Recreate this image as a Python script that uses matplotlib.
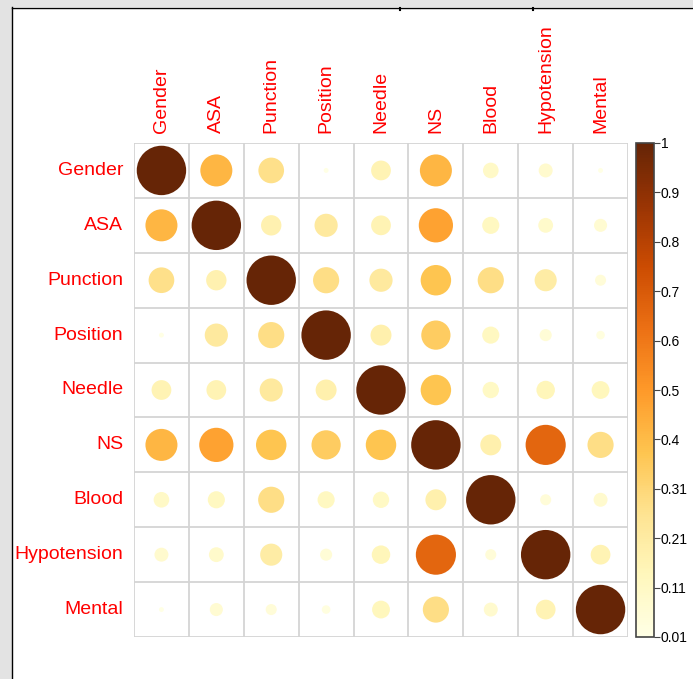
import numpy as np
import matplotlib
matplotlib.use('Agg')
from matplotlib import pyplot as plt
from matplotlib.patches import Circle, Rectangle
from matplotlib.lines import Line2D
from matplotlib.cm import ScalarMappable
from matplotlib.colors import Normalize

labels = ['Gender', 'ASA', 'Punction', 'Position', 'Needle', 'NS', 'Blood', 'Hypotension', 'Mental']

# correlation values
r_gender = [1.00, 0.42, 0.27, 0.01, 0.16, 0.42, 0.10, 0.08, 0.01]
r_asa = [0.42, 1.00, 0.17, 0.22, 0.16, 0.48, 0.12, 0.09, 0.07]
r_punction = [0.27, 0.17, 1.00, 0.28, 0.22, 0.38, 0.28, 0.20, 0.05]
r_position = [0.01, 0.22, 0.28, 1.00, 0.18, 0.35, 0.12, 0.06, 0.03]
r_needle = [0.16, 0.16, 0.22, 0.18, 1.00, 0.38, 0.11, 0.14, 0.13]
r_ns = [0.42, 0.48, 0.38, 0.35, 0.38, 1.00, 0.18, 0.66, 0.28]
r_blood = [0.10, 0.12, 0.28, 0.12, 0.11, 0.18, 1.00, 0.05, 0.08]
r_hypo = [0.08, 0.09, 0.20, 0.06, 0.14, 0.66, 0.05, 1.00, 0.16]
r_mental = [0.01, 0.07, 0.05, 0.03, 0.13, 0.28, 0.08, 0.16, 1.00]

cbar_ticks = [0.01, 0.109, 0.208, 0.307, 0.406, 0.505, 0.604, 0.703, 0.802, 0.901, 1.0]
cbar_labels = ['0.01', '0.11', '0.21', '0.31', '0.4', '0.5', '0.6', '0.7', '0.8', '0.9', '1']

corr = np.array([r_gender, r_asa, r_punction, r_position, r_needle,
                 r_ns, r_blood, r_hypo, r_mental])
n = len(labels)

W, H = 693, 679
fig = plt.figure(figsize=(W / 100, H / 100), dpi=100)
plt.rcParams['font.family'] = ['Liberation Sans', 'DejaVu Sans']

# window frame of the screenshot
fig.patches.append(Rectangle((0, 0), 12 / W, 1, transform=fig.transFigure,
                             facecolor='#e3e3e3', edgecolor='none', zorder=0))
fig.patches.append(Rectangle((0, 1 - 7 / H), 1, 7 / H, transform=fig.transFigure,
                             facecolor='#e3e3e3', edgecolor='none', zorder=0))
fig.lines.append(Line2D([12.5 / W, 12.5 / W], [0, 1 - 7 / H], transform=fig.transFigure,
                        color='black', lw=1))
fig.lines.append(Line2D([12.5 / W, 1], [1 - 7.5 / H, 1 - 7.5 / H], transform=fig.transFigure,
                        color='black', lw=1))
for xt in [400, 533]:
    fig.lines.append(Line2D([xt / W, xt / W], [1 - 7.5 / H, 1 - 10 / H],
                            transform=fig.transFigure, color='black', lw=1.5))

left, right = 134 / W, 628 / W
top, bottom = 1 - 143 / H, 1 - 637 / H
ax = fig.add_axes([left, bottom, right - left, top - bottom])
ax.set_xlim(0, n)
ax.set_ylim(n, 0)
ax.set_aspect('auto')

cmap = plt.get_cmap('YlOrBr')
norm = Normalize(vmin=0.01, vmax=1.0)

for i in range(n):
    for j in range(n):
        v = corr[i, j]
        ax.add_patch(Circle((j + 0.5, i + 0.5), 0.45 * np.sqrt(abs(v)),
                            facecolor=cmap(norm(v)), edgecolor='none', zorder=2))

for k in range(n + 1):
    ax.axhline(k, color='#d4d4d4', lw=1.3, zorder=1)
    ax.axvline(k, color='#d4d4d4', lw=1.3, zorder=1)

for s in ax.spines.values():
    s.set_visible(False)
ax.set_xticks([])
ax.set_yticks([])

for k, lab in enumerate(labels):
    ax.text(k + 0.5, -0.18, lab, rotation=90, ha='center', va='bottom',
            color='#ff0000', fontsize=14)
    ax.text(-0.2, k + 0.5, lab, ha='right', va='center',
            color='#ff0000', fontsize=14)

cax = fig.add_axes([636 / W, bottom, 18 / W, top - bottom])
sm = ScalarMappable(norm=norm, cmap=cmap)
cb = fig.colorbar(sm, cax=cax, ticks=cbar_ticks)
cb.ax.set_yticklabels(cbar_labels)
cb.ax.tick_params(length=4, width=0.8, pad=1, labelsize=10, color='#444444')
cb.outline.set_edgecolor('#444444')
cb.outline.set_linewidth(1.2)

fig.savefig('out.png', dpi=100)
